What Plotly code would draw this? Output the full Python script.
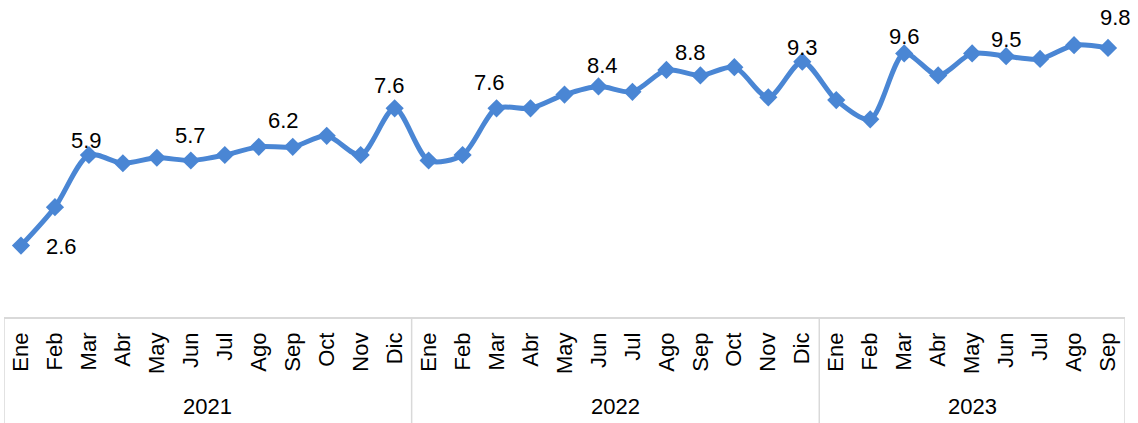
import plotly.graph_objects as go

# data
years = ["2021", "2022", "2023"]
months = ["Ene", "Feb", "Mar", "Abr", "May", "Jun", "Jul", "Ago", "Sep", "Oct", "Nov", "Dic"]
months_per_year = [12, 12, 9]

values_2021 = [2.6, 4.0, 5.9, 5.6, 5.8, 5.7, 5.9, 6.2, 6.2, 6.6, 5.9, 7.6]
values_2022 = [5.7, 5.9, 7.6, 7.6, 8.1, 8.4, 8.2, 9.0, 8.8, 9.1, 8.0, 9.3]
values_2023 = [7.9, 7.2, 9.6, 8.8, 9.6, 9.5, 9.4, 9.9, 9.8]

# which points carry a data label (index into the full series)
labelled = [0, 2, 5, 8, 11, 14, 17, 20, 23, 26, 29, 32]
# label offsets in px (dx, dy), a style matter
label_offsets = [(41, 1), (-2, -15), (0, -25), (-9, -26), (-5, -23), (-7, -26),
                 (4, -21), (-10, -23), (0, -14), (0, -17), (0, -17), (7, -30)]

values = values_2021 + values_2022 + values_2023
tick_text = []
for n in months_per_year:
    tick_text += months[:n]
xs = list(range(len(values)))

BLUE = "#4A86D4"
GRID = "#D9D9D9"
FONT = "Liberation Sans, Arial, sans-serif"

fig = go.Figure()
fig.add_trace(go.Scatter(
    x=xs, y=values,
    mode="lines+markers",
    line=dict(color=BLUE, width=5, shape="spline", smoothing=0.8),
    marker=dict(symbol="diamond", size=14, color=BLUE),
    hoverinfo="x+y",
    showlegend=False,
))

annotations = []
for idx, (dx, dy) in zip(labelled, label_offsets):
    annotations.append(dict(
        x=idx, y=values[idx], xref="x", yref="y",
        text=f"{values[idx]:.1f}", showarrow=False,
        xshift=dx, yshift=-dy, yanchor="middle", xanchor="center",
        font=dict(family=FONT, size=22, color="#000000"),
    ))

# year group labels and dividers
shapes = []
start = 0
bounds = [-0.5]
for yr, n in zip(years, months_per_year):
    annotations.append(dict(
        x=start + (n - 1) / 2, y=-0.297, xref="x", yref="paper",
        text=yr, showarrow=False, yanchor="middle",
        font=dict(family=FONT, size=22, color="#000000"),
    ))
    start += n
    bounds.append(start - 0.5)

for b in bounds:
    shapes.append(dict(type="line", xref="x", yref="paper", x0=b, x1=b, y0=0, y1=-0.36,
                       line=dict(color=GRID, width=1.5)))

fig.update_layout(
    width=1138, height=423,
    margin=dict(l=4, r=13, t=15, b=106, autoexpand=False),
    paper_bgcolor="white", plot_bgcolor="white",
    font=dict(family=FONT, size=22, color="#000000"),
    annotations=annotations,
    shapes=shapes,
)
fig.update_xaxes(
    range=[-0.5, len(values) - 0.5],
    tickmode="array", tickvals=xs, ticktext=tick_text,
    tickangle=-90, ticks="", ticklabelstandoff=5,
    showline=True, linecolor=GRID, linewidth=1.5,
    showgrid=False, zeroline=False, automargin=False,
    tickfont=dict(family=FONT, size=22, color="#000000"),
)
fig.update_yaxes(range=[0, 11], visible=False, showgrid=False, zeroline=False,
                 automargin=False)

# drop the browser's default body margin so the figure sits at the page corner
fig.write_html("out.html", config={"displayModeBar": False},
               post_script="document.body.style.margin='0';")
